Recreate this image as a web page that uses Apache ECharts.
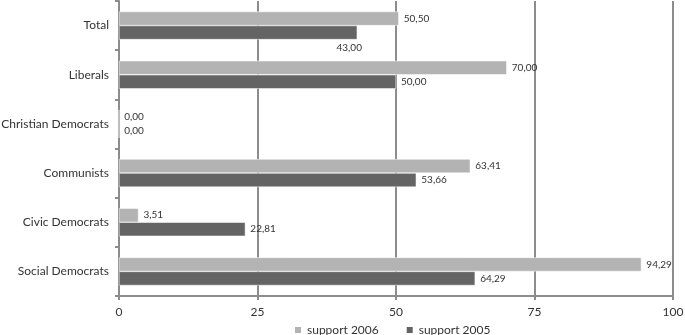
<!DOCTYPE html>
<html>
<head>
<meta charset="utf-8">
<script src="https://cdn.jsdelivr.net/npm/echarts@6/dist/echarts.min.js"></script>
<style>
  html, body { margin: 0; padding: 0; background: #fff; }
  #chart { width: 685px; height: 335px; }
</style>
</head>
<body>
<div id="chart"></div>
<script>
// parties, top to bottom
const categories = ['Total', 'Liberals', 'Christian Democrats', 'Communists', 'Civic Democrats', 'Social Democrats'];
const support2006 = [50.50, 70.00, 0.00, 63.41, 3.51, 94.29];
const support2005 = [43.00, 50.00, 0.00, 53.66, 22.81, 64.29];
const xTicks = [0, 25, 50, 75, 100];

const fmt = (v) => v.toFixed(2).replace('.', ',');
const font = 'Lato, "Open Sans", sans-serif';

const chart = echarts.init(document.getElementById('chart'));

function barSeries(name, values, color) {
  return {
    name,
    type: 'bar',
    data: values,
    barGap: '0%',
    barCategoryGap: '43%',
    itemStyle: { color, borderColor: '#fff', borderWidth: 0.5 },
    label: {
      show: true,
      position: 'right',
      distance: 5,
      color: '#333',
      fontSize: 10,
      fontFamily: font,
      formatter: (p) => fmt(p.value),
    },
  };
}

const s2006 = barSeries('support 2006', support2006, '#b3b3b3');
const s2005 = barSeries('support 2005', support2005, '#646464');
// Excel put the "Total 2005" label under the end of the bar
s2005.data = support2005.map((v, i) => i === 0
  ? { value: v, label: { position: ['100%', '100%'], offset: [-8, 3], align: 'center', verticalAlign: 'top' } }
  : v);

chart.setOption({
  animation: false,
  grid: { left: 119, right: 12, top: 1, bottom: 39, containLabel: false, outerBoundsMode: 'none' },
  legend: {
    top: 319,
    left: 288,
    itemWidth: 8,
    itemHeight: 8,
    itemGap: 26,
    icon: 'rect',
    textStyle: { color: '#333', fontSize: 12, fontFamily: font },
    data: ['support 2006', 'support 2005'],
  },
  xAxis: {
    type: 'value',
    min: xTicks[0],
    max: xTicks[xTicks.length - 1],
    interval: 25,
    axisLine: { show: true, lineStyle: { color: '#8c8c8c', width: 2 } },
    axisTick: { show: true, length: 4, lineStyle: { color: '#8c8c8c', width: 2 } },
    axisLabel: { color: '#333', fontSize: 12, fontFamily: font, margin: 10 },
    splitLine: { show: true, lineStyle: { color: '#8c8c8c', width: 2 } },
  },
  yAxis: {
    type: 'category',
    data: categories,
    inverse: true,
    axisLine: { show: true, lineStyle: { color: '#8c8c8c', width: 2 } },
    axisTick: { show: true, length: 4, lineStyle: { color: '#8c8c8c', width: 2 } },
    axisLabel: { color: '#333', fontSize: 12, fontFamily: font, margin: 10 },
  },
  series: [s2006, s2005],
});
</script>
</body>
</html>
